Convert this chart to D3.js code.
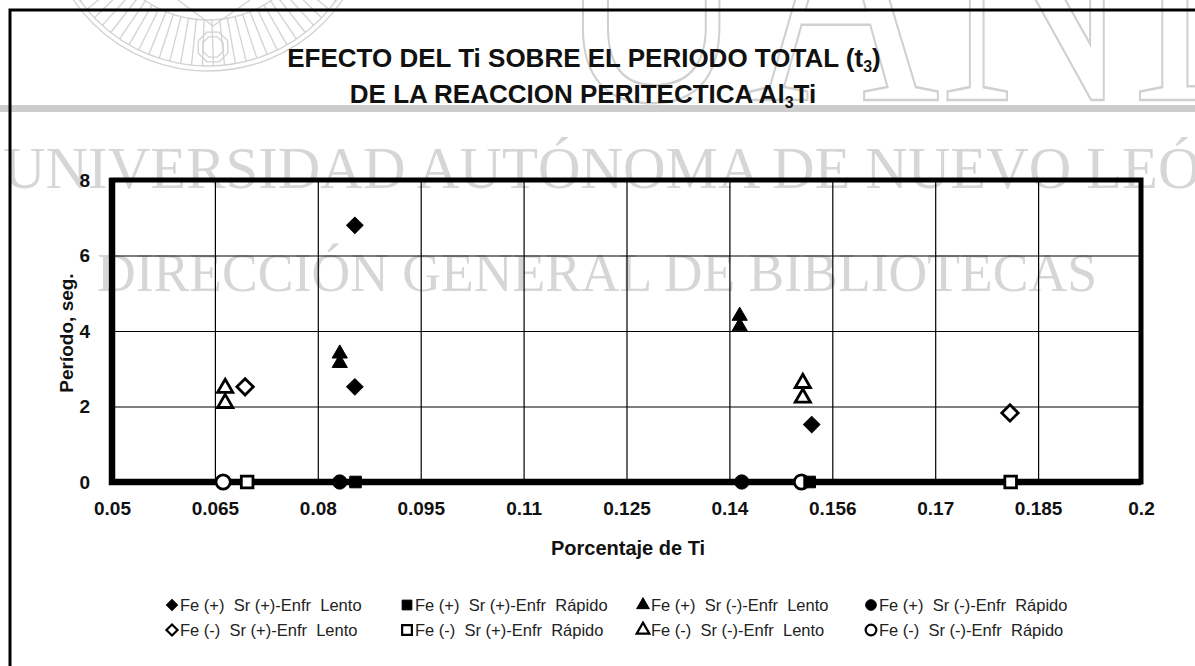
<!DOCTYPE html>
<html><head><meta charset="utf-8">
<script src="https://cdn.jsdelivr.net/npm/d3@7"></script>
<style>body{margin:0;background:#fff}svg{display:block}</style>
</head><body><svg id="c" width="1195" height="666"></svg>
<script>
// ---------- data ----------
const xTicks = [0.05, 0.065, 0.08, 0.095, 0.11, 0.125, 0.14, 0.155, 0.17, 0.185, 0.2];
const xTickLabels = ["0.05", "0.065", "0.08", "0.095", "0.11", "0.125", "0.14", "0.156", "0.17", "0.185", "0.2"];
const yTicks = [0, 2, 4, 6, 8];
const yTickLabels = ["0", "2", "4", "6", "8"];

const legendLabels = [
  "Fe (+)  Sr (+)-Enfr  Lento", "Fe (+)  Sr (+)-Enfr  Rápido",
  "Fe (+)  Sr (-)-Enfr  Lento", "Fe (+)  Sr (-)-Enfr  Rápido",
  "Fe (-)  Sr (+)-Enfr  Lento", "Fe (-)  Sr (+)-Enfr  Rápido",
  "Fe (-)  Sr (-)-Enfr  Lento", "Fe (-)  Sr (-)-Enfr  Rápido"
];
const seriesShapes = ["diamond", "square", "triangle", "circle", "diamond", "square", "triangle", "circle"];
const seriesFilled = [true, true, true, true, false, false, false, false];

const feP_srP_lento_x = [0.0854, 0.0854, 0.1520];
const feP_srP_lento_y = [6.8, 2.52, 1.52];
const feP_srP_rapido_x = [0.0855, 0.1517];
const feP_srP_rapido_y = [0, 0];
const feP_srN_lento_x = [0.0832, 0.0832, 0.1415, 0.1415];
const feP_srN_lento_y = [3.4, 3.15, 4.4, 4.12];
const feP_srN_rapido_x = [0.0832, 0.1418];
const feP_srN_rapido_y = [0, 0];
const feN_srP_lento_x = [0.0694, 0.1809];
const feN_srP_lento_y = [2.52, 1.83];
const feN_srP_rapido_x = [0.0697, 0.1810];
const feN_srP_rapido_y = [0, 0];
const feN_srN_lento_x = [0.0665, 0.0665, 0.1507, 0.1507];
const feN_srN_lento_y = [2.49, 2.09, 2.62, 2.23];
const feN_srN_rapido_x = [0.0662, 0.1505];
const feN_srN_rapido_y = [0, 0];

const seriesX = [feP_srP_lento_x, feP_srP_rapido_x, feP_srN_lento_x, feP_srN_rapido_x,
                 feN_srP_lento_x, feN_srP_rapido_x, feN_srN_lento_x, feN_srN_rapido_x];
const seriesY = [feP_srP_lento_y, feP_srP_rapido_y, feP_srN_lento_y, feP_srN_rapido_y,
                 feN_srP_lento_y, feN_srP_rapido_y, feN_srN_lento_y, feN_srN_rapido_y];

const titleLine1 = "EFECTO DEL Ti SOBRE EL PERIODO TOTAL (t";
const titleSub1 = "3";
const titleEnd1 = ")";
const titleLine2a = "DE LA REACCION PERITECTICA Al";
const titleSub2 = "3";
const titleLine2b = "Ti";
const xTitle = "Porcentaje de Ti";
const yTitle = "Período, seg.";
const watermarkBig = "UANL";
const watermarkLines = ["UNIVERSIDAD AUTÓNOMA DE NUEVO LEÓN", "DIRECCIÓN GENERAL DE BIBLIOTECAS"];

// ---------- drawing ----------
const svg = d3.select("#c");
const W = 1195, H = 666;
const M = {left: 112, right: 1141, top: 180, bottom: 482};
const SANS = "'Liberation Sans', Arial, sans-serif";
const SERIF = "'Liberation Serif', 'Times New Roman', serif";

// watermark (beneath chart)
const wm = svg.append("g").attr("fill", "#d6d6d6");
const emb = wm.append("g").attr("fill", "none").attr("stroke", "#d2d2d2").attr("stroke-width", 1.3);
const ec = [208, -92];
emb.append("circle").attr("cx", ec[0]).attr("cy", ec[1]).attr("r", 163);
emb.append("circle").attr("cx", ec[0]).attr("cy", ec[1]).attr("r", 158);
emb.append("circle").attr("cx", ec[0]).attr("cy", ec[1]).attr("r", 112);
for (let a = 20; a <= 160; a += 4) {
  const r = a * Math.PI / 180;
  emb.append("line")
    .attr("x1", ec[0] + 112 * Math.cos(r)).attr("y1", ec[1] + 112 * Math.sin(r))
    .attr("x2", ec[0] + 158 * Math.cos(r)).attr("y2", ec[1] + 158 * Math.sin(r));
}
emb.append("path").attr("d", "M178,0 L213,26 L250,0");
const oct = (cx, cy, r) => d3.range(8).map(i => {
  const t = Math.PI / 8 + i * Math.PI / 4;
  return [cx + r * Math.cos(t), cy + r * Math.sin(t)];
});
emb.append("path").attr("d", d3.line()(oct(213, 47, 16)) + "Z");
emb.append("path").attr("d", d3.line()(oct(213, 47, 11)) + "Z");

wm.append("text").text(watermarkBig)
  .attr("x", 555).attr("y", 100)
  .attr("font-family", SERIF).attr("font-size", 330)
  .attr("textLength", 740).attr("lengthAdjust", "spacingAndGlyphs")
  .attr("fill", "none").attr("stroke", "#d0d0d0").attr("stroke-width", 2.5);
wm.append("rect").attr("x", 0).attr("y", 105).attr("width", W).attr("height", 7).attr("fill", "#cdcdcd");
wm.append("text").text(watermarkLines[0])
  .attr("x", 3).attr("y", 188)
  .attr("font-family", SERIF).attr("font-size", 60)
  .attr("textLength", 1240).attr("lengthAdjust", "spacingAndGlyphs");
wm.append("text").text(watermarkLines[1])
  .attr("x", 97).attr("y", 291)
  .attr("font-family", SERIF).attr("font-size", 54)
  .attr("textLength", 1000).attr("lengthAdjust", "spacingAndGlyphs");

// outer frame
svg.append("path").attr("d", `M10,${H} L10,10 L${W},10`)
  .attr("fill", "none").attr("stroke", "#000").attr("stroke-width", 3);

// title
const t1 = svg.append("text").attr("x", 584).attr("y", 67).attr("text-anchor", "middle")
  .attr("font-family", SANS).attr("font-weight", "bold").attr("font-size", 26).attr("fill", "#111");
t1.append("tspan").text(titleLine1);
t1.append("tspan").text(titleSub1).attr("font-size", 16).attr("dy", 5);
t1.append("tspan").text(titleEnd1).attr("dy", -5);
const t2 = svg.append("text").attr("x", 583).attr("y", 103).attr("text-anchor", "middle")
  .attr("font-family", SANS).attr("font-weight", "bold").attr("font-size", 26).attr("fill", "#111");
t2.append("tspan").text(titleLine2a);
t2.append("tspan").text(titleSub2).attr("font-size", 16).attr("dy", 5);
t2.append("tspan").text(titleLine2b).attr("dy", -5);

// scales
const x = d3.scaleLinear().domain([0.05, 0.2]).range([M.left, M.right]);
const y = d3.scaleLinear().domain([0, 8]).range([M.bottom, M.top]);

// grid
const gx = svg.append("g").attr("transform", `translate(0,${M.bottom})`)
  .call(d3.axisBottom(x).tickValues(xTicks.slice(1, -1)).tickSize(-(M.bottom - M.top)).tickFormat(""));
gx.select(".domain").remove();
gx.selectAll("line").attr("stroke", "#000").attr("stroke-width", 1.2);
const gy = svg.append("g").attr("transform", `translate(${M.left},0)`)
  .call(d3.axisLeft(y).tickValues(yTicks.slice(1, -1)).tickSize(-(M.right - M.left)).tickFormat(""));
gy.select(".domain").remove();
gy.selectAll("line").attr("stroke", "#000").attr("stroke-width", 1.2);

// plot frame
svg.append("rect").attr("x", M.left).attr("y", M.top)
  .attr("width", M.right - M.left).attr("height", M.bottom - M.top)
  .attr("fill", "none").attr("stroke", "#000").attr("stroke-width", 5);
svg.append("path").attr("d", `M${M.left},${M.top - 2} L${M.left},${M.bottom} L${M.right},${M.bottom}`)
  .attr("fill", "none").attr("stroke", "#000").attr("stroke-width", 6.5);

// axes labels
const ax = svg.append("g").attr("transform", `translate(0,${M.bottom})`)
  .call(d3.axisBottom(x).tickValues(xTicks).tickSize(0).tickPadding(20)
    .tickFormat((d, i) => xTickLabels[i]));
ax.select(".domain").remove();
ax.selectAll("text").attr("font-family", SANS).attr("font-weight", "bold")
  .attr("font-size", 19).attr("fill", "#111");
const ay = svg.append("g").attr("transform", `translate(${M.left},0)`)
  .call(d3.axisLeft(y).tickValues(yTicks).tickSize(0).tickPadding(22)
    .tickFormat((d, i) => yTickLabels[i]));
ay.select(".domain").remove();
ay.selectAll("text").attr("font-family", SANS).attr("font-weight", "bold")
  .attr("font-size", 19).attr("fill", "#111");

svg.append("text").text(xTitle).attr("x", 628).attr("y", 555).attr("text-anchor", "middle")
  .attr("font-family", SANS).attr("font-weight", "bold").attr("font-size", 20).attr("fill", "#111");
svg.append("text").text(yTitle).attr("transform", "translate(73,333) rotate(-90)")
  .attr("text-anchor", "middle")
  .attr("font-family", SANS).attr("font-weight", "bold").attr("font-size", 19).attr("fill", "#111");

// symbols
function symPath(shape, big) {
  const s = {
    diamond: [d3.symbolSquare, big ? 135 : 62],
    square: [d3.symbolSquare, big ? 135 : 95],
    triangle: [d3.symbolTriangle, big ? 100 : 70],
    circle: [d3.symbolCircle, big ? 160 : 90]
  }[shape];
  return d3.symbol().type(s[0]).size(s[1])();
}
function drawMark(g, shape, filled, cx, cy, big) {
  g.append("path").attr("d", symPath(shape, big))
    .attr("transform", `translate(${cx},${cy})` + (shape === "diamond" ? " rotate(45)" : ""))
    .attr("fill", filled ? "#000" : "#fff")
    .attr("stroke", "#000").attr("stroke-width", filled ? 1 : (big ? 2.8 : 2.2));
}

const marks = svg.append("g");
for (let s = seriesX.length - 1; s >= 0; s--) {
  seriesX[s].forEach((xv, i) => {
    drawMark(marks, seriesShapes[s], seriesFilled[s], x(xv), y(seriesY[s][i]), true);
  });
}

// legend
const legCols = [172, 407, 643, 871];
const legRows = [605, 630];
const leg = svg.append("g");
legendLabels.forEach((lab, i) => {
  const cx = legCols[i % 4], cy = legRows[Math.floor(i / 4)];
  drawMark(leg, seriesShapes[i], seriesFilled[i], cx, cy, false);
  leg.append("text").text(lab).attr("x", cx + 8).attr("y", cy + 6)
    .attr("font-family", SANS).attr("font-size", 16.5).attr("fill", "#222")
    .style("white-space", "pre");
});
</script></body></html>
